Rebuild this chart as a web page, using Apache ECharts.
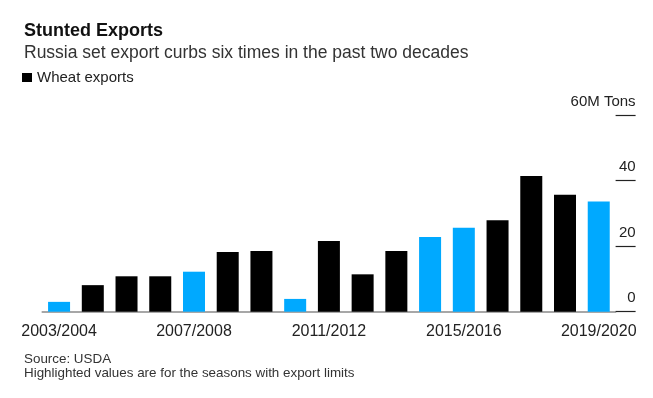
<!DOCTYPE html>
<html>
<head>
<meta charset="utf-8">
<title>Stunted Exports</title>
<script src="https://cdn.jsdelivr.net/npm/echarts@6/dist/echarts.min.js"></script>
<style>
  html, body { margin: 0; padding: 0; background: #fff; }
  #chart { width: 653px; height: 398px; }
</style>
</head>
<body>
<div id="chart"></div>
<script>
  // seasons on the x axis
  var seasons = ['2003/2004', '2004/2005', '2005/2006', '2006/2007', '2007/2008', '2008/2009',
    '2009/2010', '2010/2011', '2011/2012', '2012/2013', '2013/2014', '2014/2015',
    '2015/2016', '2016/2017', '2017/2018', '2018/2019', '2019/2020']
  // wheat exports, million tons
  var exportsMt = [3.0, 8.1, 10.8, 10.8, 12.2, 18.2, 18.5, 3.9, 21.6, 11.4, 18.5, 22.8, 25.6, 27.9, 41.4, 35.7, 33.6]
  // seasons with export limits (highlighted)
  var limitSeasons = ['2003/2004', '2007/2008', '2010/2011', '2014/2015', '2015/2016', '2019/2020']
  var yTicks = [0, 20, 40, 60]

  var font = '"Liberation Sans", Arial, sans-serif'
  var blue = '#00a9ff'

  var barData = exportsMt.map(function (v, i) {
    var item = { value: v }
    if (limitSeasons.indexOf(seasons[i]) > -1) {
      item.itemStyle = { color: blue }
    }
    return item
  })

  var chart = echarts.init(document.getElementById('chart'), null, { renderer: 'canvas' })
  chart.setOption({
    animation: false,
    backgroundColor: '#fff',
    title: [
      {
        text: 'Stunted Exports',
        left: 19, top: 17,
        textStyle: { fontFamily: font, fontSize: 18, fontWeight: 'bold', color: '#111' }
      },
      {
        text: 'Russia set export curbs six times in the past two decades',
        left: 19, top: 39,
        textStyle: { fontFamily: font, fontSize: 17.5, fontWeight: 'normal', color: '#333' }
      },
      {
        text: 'Source: USDA\nHighlighted values are for the seasons with export limits',
        left: 19, top: 347,
        textStyle: { fontFamily: font, fontSize: 13.4, fontWeight: 'normal', color: '#333', lineHeight: 14.5 }
      }
    ],
    legend: {
      left: 17, top: 70,
      icon: 'rect',
      itemWidth: 10, itemHeight: 9,
      itemGap: 5,
      padding: [0, 5],
      textStyle: { fontFamily: font, fontSize: 15, color: '#222' },
      data: ['Wheat exports']
    },
    grid: {
      left: 42.2,
      right: 37.4,
      top: 115,
      bottom: 86.3,
      containLabel: false
    },
    xAxis: {
      type: 'category',
      data: seasons,
      axisLine: { lineStyle: { color: '#8a8a8a', width: 1.5 } },
      axisTick: { interval: 3, alignWithLabel: true, length: 4, lineStyle: { color: '#444' } },
      axisLabel: { interval: 3, margin: 12, fontFamily: font, fontSize: 16, color: '#222' }
    },
    yAxis: {
      type: 'value',
      position: 'right',
      min: 0, max: 60, interval: 20,
      axisLine: { show: false },
      axisTick: { show: true, inside: false, length: 20, lineStyle: { color: '#222', width: 1.2 } },
      splitLine: { show: false },
      axisLabel: {
        margin: 20,
        align: 'right',
        verticalAlign: 'bottom',
        padding: [0, 0, 6, 0],
        fontFamily: font, fontSize: 15, color: '#222',
        formatter: function (v) {
          if (yTicks.indexOf(v) < 0) return ''
          return v === 60 ? '60M Tons' : String(v)
        }
      }
    },
    series: [
      {
        name: 'Wheat exports',
        type: 'bar',
        barWidth: 22,
        itemStyle: { color: '#000' },
        data: barData
      }
    ]
  })
</script>
</body>
</html>
